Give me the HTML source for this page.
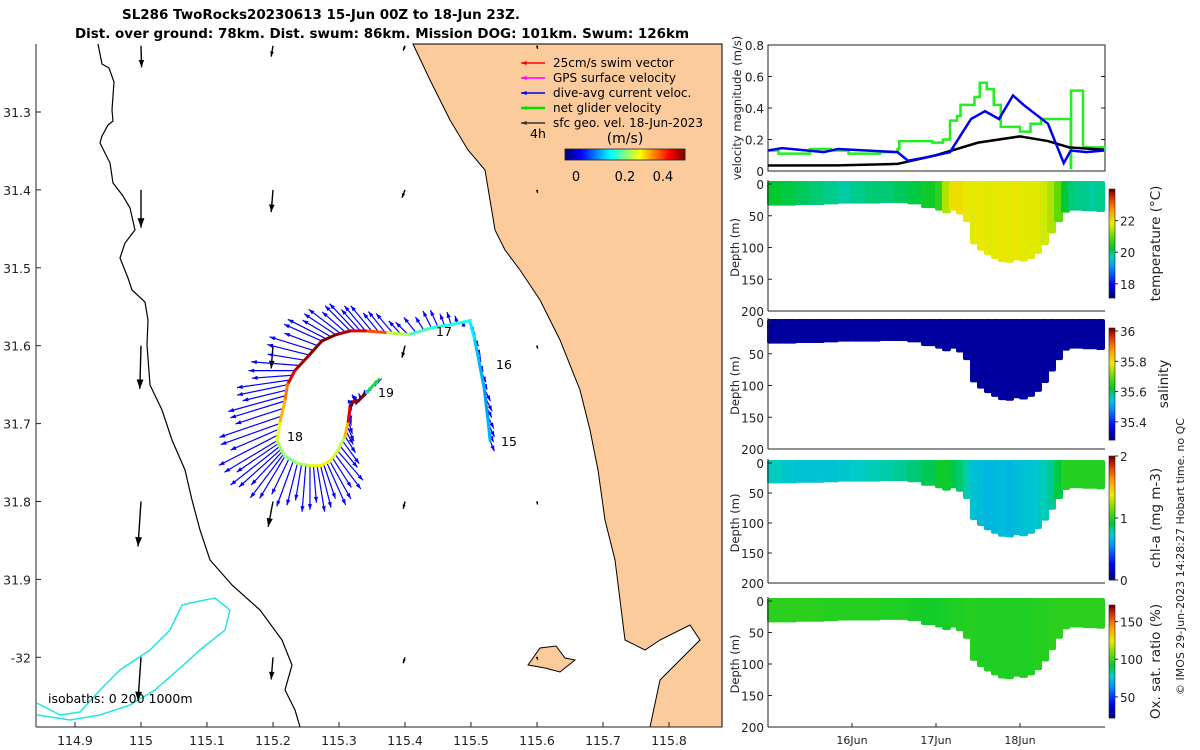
<!DOCTYPE html>
<html><head><meta charset="utf-8">
<style>
body{margin:0;background:#fff;}
svg{display:block;font-family:"DejaVu Sans","Liberation Sans",sans-serif;}
</style></head><body>
<svg id="fig" width="1200" height="750" viewBox="0 0 1200 750">
<text x="321" y="19" text-anchor="middle" font-size="13" font-weight="bold" textLength="398" lengthAdjust="spacingAndGlyphs">SL286 TwoRocks20230613 15-Jun 00Z to 18-Jun 23Z.</text>
<text x="382" y="38" text-anchor="middle" font-size="13" font-weight="bold" textLength="614" lengthAdjust="spacingAndGlyphs">Dist. over ground: 78km. Dist. swum: 86km. Mission DOG: 101km. Swum: 126km</text>
<g id="map"></g>
<g id="vel"></g>
<g id="sect"></g>
<text transform="translate(1184,695) rotate(-90)" font-size="11" fill="#222">© IMOS 29-Jun-2023 14:28:27 Hobart time. no QC</text>
</svg>
<script>
// ---------- DATA ----------
const lonTicks=[114.9,115,115.1,115.2,115.3,115.4,115.5,115.6,115.7,115.8];
const latTicks=[31.3,31.4,31.5,31.6,31.7,31.8,31.9,32];
const trackLon=[115.529,115.525,115.520,115.512,115.505,115.498,115.470,115.440,115.405,115.370,115.340,115.317,115.295,115.274,115.255,115.233,115.222,115.218,115.210,115.206,115.212,115.218,115.237,115.256,115.272,115.286,115.298,115.309,115.314,115.317,115.322,115.329,115.342,115.355];
const trackLat=[31.722,31.690,31.655,31.620,31.590,31.568,31.573,31.577,31.586,31.583,31.581,31.581,31.586,31.594,31.612,31.632,31.650,31.671,31.700,31.722,31.733,31.742,31.751,31.754,31.754,31.748,31.735,31.716,31.697,31.677,31.672,31.671,31.660,31.648];
const trackSpd=[0.15,0.14,0.15,0.16,0.18,0.2,0.2,0.22,0.28,0.4,0.45,0.48,0.5,0.5,0.48,0.45,0.38,0.35,0.3,0.27,0.26,0.25,0.27,0.3,0.32,0.3,0.28,0.35,0.45,0.5,0.48,0.5,0.2,0.22];
const curU=[0.02,0.03,0.03,0.02,0.02,0.01,-0.02,-0.04,-0.06,-0.08,-0.1,-0.12,-0.15,-0.18,-0.2,-0.22,-0.24,-0.26,-0.28,-0.25,-0.2,-0.12,-0.05,0.0,0.05,0.1,0.12,0.05,0.02,0.0,0.0,-0.03,0.02,0.03];
const curV=[-0.05,-0.06,-0.06,-0.05,-0.04,-0.02,0.06,0.08,0.06,0.1,0.12,0.12,0.1,0.08,0.05,0.0,-0.05,-0.08,-0.1,-0.15,-0.18,-0.2,-0.2,-0.21,-0.2,-0.18,-0.14,-0.08,-0.06,-0.04,0.0,0.03,0.02,0.02];
const gridLon=[115.0,115.2,115.4,115.6];
const gridLat=[31.215,31.4,31.6,31.8,32.0];
const gridU=[[0.001,-0.003,-0.003,0.001],[0,-0.003,-0.005,0.001],[-0.002,-0.003,-0.005,0.001],[-0.005,-0.008,-0.003,0.001],[-0.005,-0.003,-0.003,0.001]];
const gridV=[[-0.036,-0.018,-0.008,-0.005],[-0.063,-0.037,-0.013,-0.005],[-0.072,-0.038,-0.02,-0.005],[-0.075,-0.042,-0.012,-0.005],[-0.073,-0.037,-0.01,-0.004]];
const velTicks=[0,0.2,0.4,0.6,0.8];
const dayTicks=["16Jun","17Jun","18Jun"];
const dayHours=[24,48,72];
const greenH=[0,3,12,18,23,32,37,37.5,47,50,52,54,55,59,60.5,62.5,64.5,66.5,72,75,78,82.5,86.5,86.6,90,96];
const greenV=[0.13,0.11,0.14,0.13,0.11,0.12,0.14,0.19,0.18,0.2,0.32,0.35,0.42,0.47,0.56,0.52,0.42,0.28,0.25,0.3,0.33,0.33,0.02,0.51,0.15,0.13];
const blueH=[0,4,16,20,37,40,46,52,58,62,66,70,73,80,84.5,86.5,91,96];
const blueV=[0.13,0.145,0.12,0.14,0.12,0.065,0.09,0.12,0.33,0.38,0.33,0.48,0.42,0.3,0.05,0.13,0.12,0.13];
const blackH=[0,20,37,48,60,72,80,86,96];
const blackV=[0.035,0.036,0.045,0.1,0.18,0.22,0.19,0.15,0.135];
const profH=[0,4,8,12,16,20,24,28,32,36,40,44,48,50,52,54,56,58,60,62,64,66,68,70,72,74,76,78,80,82,84,86,88,90,92,94,96];
const profD=[34,34,33,33,32,31,31,31,30,30,32,38,42,46,42,48,60,95,105,112,118,123,124,120,122,118,110,96,78,60,45,42,42,43,43,44,44];
const tempV=[20.3,20.2,20.1,20.0,19.9,19.8,19.9,20.0,20.0,20.1,20.2,20.4,20.6,21.5,22.0,22.0,21.9,21.8,21.9,21.8,21.8,21.9,21.8,21.9,21.8,21.8,21.8,21.7,21.5,21.0,20.3,20.0,19.9,19.9,19.8,19.9,19.9];
const salV=[35.3,35.3,35.3,35.3,35.3,35.3,35.3,35.3,35.3,35.3,35.3,35.3,35.3,35.3,35.3,35.3,35.3,35.3,35.3,35.3,35.3,35.3,35.3,35.3,35.3,35.3,35.3,35.3,35.3,35.3,35.3,35.3,35.3,35.3,35.3,35.3,35.3];
const chlV=[0.75,0.72,0.7,0.7,0.7,0.72,0.74,0.76,0.78,0.8,0.84,0.88,0.95,0.95,0.9,0.85,0.78,0.7,0.68,0.66,0.67,0.68,0.66,0.68,0.7,0.7,0.72,0.76,0.8,0.9,1.0,1.0,1.0,1.0,1.0,1.0,1.0];
const oxV=[98,98,98,98,97,97,97,97,96,96,95,94,94,95,96,96,97,97,96,96,96,96,96,96,96,96,97,97,98,98,98,98,98,98,98,98,98];

// ---------- HELPERS ----------
const NS="http://www.w3.org/2000/svg";
function mk(tag,attrs,parent){const e=document.createElementNS(NS,tag);for(const k in attrs)e.setAttribute(k,attrs[k]);parent.appendChild(e);return e;}
function jet(t){t=Math.max(0,Math.min(1,t));const r=Math.max(0,Math.min(1,1.5-Math.abs(4*t-3))),g=Math.max(0,Math.min(1,1.5-Math.abs(4*t-2))),b=Math.max(0,Math.min(1,1.5-Math.abs(4*t-1)));return `rgb(${Math.round(r*255)},${Math.round(g*255)},${Math.round(b*255)})`;}
const stops=[[0,0,0,130],[0.12,0,0,255],[0.28,0,150,255],[0.37,0,205,200],[0.46,0,200,50],[0.57,100,220,0],[0.69,235,235,0],[0.81,255,160,0],[0.92,225,60,0],[1,130,0,0]];
function cmap(t){t=Math.max(0,Math.min(1,t));for(let i=1;i<stops.length;i++){if(t<=stops[i][0]){const a=stops[i-1],b=stops[i],f=(t-a[0])/(b[0]-a[0]);return `rgb(${Math.round(a[1]+f*(b[1]-a[1]))},${Math.round(a[2]+f*(b[2]-a[2]))},${Math.round(a[3]+f*(b[3]-a[3]))})`;}}return 'rgb(130,0,0)';}
const map=document.getElementById('map'),vel=document.getElementById('vel'),sect=document.getElementById('sect');

// ---------- MAP ----------
const ML=36,MR=722,MT=44,MB=727;
const xLon=l=>141+(l-115)*660;
const yLat=l=>112+(l-31.3)*779;
let land=mk('path',{d:"M413,44 L430,80 L450,120 L468,150 L485,170 L490,200 L495,230 L505,250 L520,270 L540,300 L560,340 L580,390 L590,430 L598,470 L605,520 L615,560 L620,600 L625,640 L645,650 L660,640 L690,625 L700,640 L680,660 L660,680 L650,727 L722,727 L722,44 Z",fill:"#fbcb9c",stroke:"#000","stroke-width":1},map);


let island=mk('path',{d:"M528,665 L540,648 L556,646 L565,658 L575,660 L560,672 L545,668 Z",fill:"#fbcb9c",stroke:"#000","stroke-width":1},map);


let iso0=mk('path',{d:"M98,44 L102,64 L109,68 L114,82 L112,110 L113,121 L108,125 L102,136 L100,143 L110,163 L113,183 L123,196 L130,208 L135,230 L125,243 L120,258 L128,278 L132,290 L145,302 L148,320 L147,345 L150,385 L162,410 L172,440 L185,470 L192,500 L200,530 L210,560 L232,585 L260,610 L282,640 L292,665 L285,690 L295,710 L300,727",fill:"none",stroke:"#000","stroke-width":1.2},map);


let iso1=mk('path',{d:"M37,703 L60,715 L80,712 L100,690 L120,670 L150,650 L170,630 L182,605 L195,602 L215,598 L230,610 L225,630 L200,650 L180,668 L155,690 L130,705 L100,715 L70,720 L37,715",fill:"none",stroke:"#22e5e5","stroke-width":1.5},map);


const gsc=600;
function arrow(g,x1,y1,x2,y2,col,w,hs){mk('line',{x1,y1,x2,y2,stroke:col,"stroke-width":w},g);const a=Math.atan2(y2-y1,x2-x1);const p1=[x2-hs*Math.cos(a-0.35),y2-hs*Math.sin(a-0.35)],p2=[x2-hs*Math.cos(a+0.35),y2-hs*Math.sin(a+0.35)];mk('polygon',{points:`${x2},${y2} ${p1} ${p2}`,fill:col},g);}
gridLat.forEach((la,i)=>gridLon.forEach((lo,j)=>{const g=mk('g',{},map);const x0=xLon(lo),y0=yLat(la);const m=Math.hypot(gridU[i][j],gridV[i][j]);arrow(g,x0,y0,x0+gridU[i][j]*gsc,y0-gridV[i][j]*gsc,"#000",1.4,Math.min(10,2.5+m*150));}));
const csc=210;
trackLon.forEach((lo,i)=>{const g=mk('g',{},map);const x=xLon(lo),y=yLat(trackLat[i]);arrow(g,x,y,x+curU[i]*csc,y-curV[i]*csc,"#0000ff",1.2,6);
 if(i<trackLon.length-1){const x2=xLon(trackLon[i+1]),y2=yLat(trackLat[i+1]);[0.33,0.67].forEach(f=>{const xm=x+(x2-x)*f,ym=y+(y2-y)*f;const uu=curU[i]+(curU[i+1]-curU[i])*f,vv=curV[i]+(curV[i+1]-curV[i])*f;const k=f<0.5?0.85:1.08;arrow(g,xm,ym,xm+uu*csc*k,ym-vv*csc*k,"#0000ff",1.2,6);});}});
for(let i=0;i<trackLon.length-1;i++){const s=mk('line',{x1:xLon(trackLon[i]),y1:yLat(trackLat[i]),x2:xLon(trackLon[i+1]),y2:yLat(trackLat[i+1]),stroke:jet(trackSpd[i]/0.5),"stroke-width":3,"stroke-linecap":"round"},map);}
let lastg=mk('g',{},map);
arrow(lastg,xLon(115.342),yLat(31.660),xLon(115.362),yLat(31.642),"#22dd22",2.5,7);
[["15",501,446],["16",496,369],["17",436,336],["18",287,441],["19",378,397],["4h",530,138]].forEach(d=>{const t=mk('text',{x:d[1],y:d[2],"font-size":12.5},map);t.textContent=d[0];});
mk('line',{x1:ML,y1:MT,x2:ML,y2:MB,stroke:"#222"},map);mk('line',{x1:ML,y1:MB,x2:MR,y2:MB,stroke:"#222"},map);
lonTicks.forEach(l=>{const x=xLon(l);mk('line',{x1:x,y1:MB,x2:x,y2:MB-5,stroke:"#222"},map);const t=mk('text',{x:x,y:MB+18,"text-anchor":"middle","font-size":12.5,fill:"#222"},map);t.textContent=String(l);});
latTicks.forEach(l=>{const y=yLat(l);mk('line',{x1:ML,y1:y,x2:ML+5,y2:y,stroke:"#222"},map);const t=mk('text',{x:ML-5,y:y+5,"text-anchor":"end","font-size":12.5,fill:"#222"},map);t.textContent=l===32?"-32":String(l);});
let isot=mk('text',{x:48,y:703,"font-size":12.5},map);isot.textContent="isobaths: 0   200  1000m";
const legC=["#ff0000","#ff00ff","#0000ff","#00dd00","#333"],legT=["25cm/s swim vector","GPS surface velocity","dive-avg current veloc.","net glider velocity","sfc geo. vel. 18-Jun-2023"];
legT.forEach((s,i)=>{const g=mk('g',{},map);const y=63+i*15;arrow(g,545,y,521,y,legC[i],i==3?2.5:1.5,6);const t=mk('text',{x:553,y:y+4,"font-size":12},g);t.textContent=s;});
const cb=mk('g',{},map);
for(let i=0;i<60;i++)mk('rect',{x:565+i*2,y:149,width:2.2,height:11,fill:jet(i/59)},cb);
mk('rect',{x:565,y:149,width:120,height:11,fill:"none",stroke:"#222","stroke-width":0.8},cb);
[["0",576],["0.2",625],["0.4",663]].forEach(d=>{const t=mk('text',{x:d[1],y:181,"text-anchor":"middle","font-size":13},cb);t.textContent=d[0];});
let cbt=mk('text',{x:625,y:143,"text-anchor":"middle","font-size":14},cb);cbt.textContent="(m/s)";

// ---------- VELOCITY PANEL ----------
const VL=768,VR=1105,VT=45,VB=171;
const xH=h=>VL+h*3.5;
const yV=v=>VB-v/0.8*(VB-VT);
mk('rect',{x:VL,y:VT,width:VR-VL,height:VB-VT,fill:"none",stroke:"#222"},vel);
velTicks.forEach(v=>{const y=yV(v);mk('line',{x1:VL,y1:y,x2:VL+4,y2:y,stroke:"#222"},vel);mk('line',{x1:VR,y1:y,x2:VR-4,y2:y,stroke:"#222"},vel);const t=mk('text',{x:VL-4,y:y+5,"text-anchor":"end","font-size":12,fill:"#222"},vel);t.textContent=v===0?"0":String(v);});
let vyl=mk('text',{transform:`translate(741,108) rotate(-90)`,"text-anchor":"middle","font-size":11.5,fill:"#222"},vel);vyl.textContent="velocity magnitude (m/s)";
function stepPath(H,V){let d=`M${xH(H[0])},${yV(V[0])}`;for(let i=1;i<H.length;i++)d+=` L${xH(H[i])},${yV(V[i-1])} L${xH(H[i])},${yV(V[i])}`;return d;}
function linePath(H,V){return H.map((h,i)=>(i?'L':'M')+xH(h)+','+yV(V[i])).join(' ');}
let gl=mk('path',{d:stepPath(greenH,greenV),fill:"none",stroke:"#22ee22","stroke-width":2.5},vel);
let kl=mk('path',{d:linePath(blackH,blackV),fill:"none",stroke:"#000","stroke-width":2.5},vel);
let bl=mk('path',{d:linePath(blueH,blueV),fill:"none",stroke:"#0000ee","stroke-width":2.5},vel);

// ---------- SECTIONS ----------
const panels=[
 {top:184,bot:311,vals:tempV,min:17.1,max:24.0,ticks:[18,20,22],label:"temperature (°C)",cbT:189,cbB:298,name:"temperature"},
 {top:322,bot:449,vals:salV,min:35.28,max:36.02,ticks:[35.4,35.6,35.8,36],label:"salinity",cbT:328,cbB:440,name:"salinity"},
 {top:463,bot:583,vals:chlV,min:0,max:2,ticks:[0,1,2],label:"chl-a (mg m-3)",cbT:456,cbB:580,name:"chlorophyll"},
 {top:601,bot:727,vals:oxV,min:22,max:172,ticks:[50,100,150],label:"Ox. sat. ratio (%)",cbT:605,cbB:718,name:"oxygen"}];
panels.forEach((p,pi)=>{
 const g=mk('g',{},sect);
 const yD=d=>p.top+d/200*(p.bot-p.top);
 for(let i=0;i<profH.length-1;i++){const r=mk('rect',{x:xH(profH[i])-1,y:yD(0)-3,width:xH(profH[i+1])-xH(profH[i])+2,height:yD(profD[i])-yD(0)+3,fill:cmap((p.vals[i]-p.min)/(p.max-p.min)),rx:2},g);}
 mk('line',{x1:VL,y1:p.top-4,x2:VL,y2:p.bot,stroke:"#222"},g);mk('line',{x1:VL,y1:p.bot,x2:VR,y2:p.bot,stroke:"#222"},g);
 [0,50,100,150,200].forEach(d=>{const y=yD(d);mk('line',{x1:VL,y1:y,x2:VL+4,y2:y,stroke:"#222"},g);const t=mk('text',{x:VL-4,y:y+5,"text-anchor":"end","font-size":12,fill:"#222"},g);t.textContent=String(d);});
 const yl=mk('text',{transform:`translate(739,${(p.top+p.bot)/2}) rotate(-90)`,"text-anchor":"middle","font-size":11.5,fill:"#222"},g);yl.textContent="Depth (m)";
 for(let i=0;i<40;i++){const h=(p.cbB-p.cbT)/40;mk('rect',{x:1109,y:p.cbB-(i+1)*h,width:6,height:h+0.3,fill:cmap(i/39)},g);}
 mk('rect',{x:1109,y:p.cbT,width:6,height:p.cbB-p.cbT,fill:"none",stroke:"#222","stroke-width":0.6},g);
 p.ticks.forEach(v=>{const y=p.cbB-(v-p.min)/(p.max-p.min)*(p.cbB-p.cbT);mk('line',{x1:1115,y1:y,x2:1118,y2:y,stroke:"#222"},g);const t=mk('text',{x:1120,y:y+5,"font-size":12,fill:"#222"},g);t.textContent=String(v);});
 const cl=mk('text',{transform:`translate(${pi==1?1168:1160},${(p.cbT+p.cbB)/2}) rotate(-90)`,"text-anchor":"middle","font-size":13.5,fill:"#222"},g);cl.textContent=p.label;
});
dayHours.forEach((h,i)=>{const x=xH(h);mk('line',{x1:x,y1:727,x2:x,y2:723,stroke:"#222"},sect);const t=mk('text',{x:x,y:744,"text-anchor":"middle","font-size":11,fill:"#222"},sect);t.textContent=dayTicks[i];});
</script>
</body></html>
